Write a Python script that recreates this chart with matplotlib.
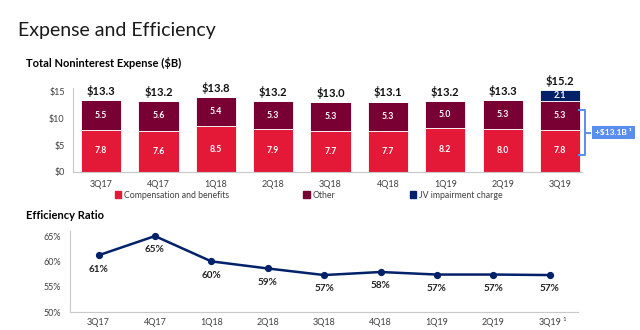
import matplotlib
import matplotlib.pyplot as plt
from matplotlib.patches import Patch

matplotlib.use("Agg")
plt.rcParams["font.family"] = ["Lato", "DejaVu Sans"]

quarters = ["3Q17", "4Q17", "1Q18", "2Q18", "3Q18", "4Q18", "1Q19", "2Q19", "3Q19"]
comp = [7.8, 7.6, 8.5, 7.9, 7.7, 7.7, 8.2, 8.0, 7.8]
other = [5.5, 5.6, 5.4, 5.3, 5.3, 5.3, 5.0, 5.3, 5.3]
jv = [0, 0, 0, 0, 0, 0, 0, 0, 2.1]
totals = [13.3, 13.2, 13.8, 13.2, 13.0, 13.1, 13.2, 13.3, 15.2]
eff = [61.2, 65.0, 60.0, 58.6, 57.3, 57.9, 57.4, 57.4, 57.3]
eff_labels = ["61%", "65%", "60%", "59%", "57%", "58%", "57%", "57%", "57%"]

RED = "#E31937"
MAROON = "#780032"
NAVY = "#012169"
BLUE = "#5B8DEF"
TICK = "#404040"
SPINE = "#C8C8C8"

fig = plt.figure(figsize=(6.4, 3.3), dpi=100)
fig.patch.set_facecolor("white")

fig.text(0.028, 0.89, "Expense and Efficiency", fontsize=14, color="#1a1a1a")
fig.text(0.04, 0.797, "Total Noninterest Expense ($B)", fontsize=8, fontweight="bold")
fig.text(0.04, 0.335, "Efficiency Ratio", fontsize=8, fontweight="bold")

# stacked expense bars
ax = fig.add_axes([0.114, 0.479, 0.795, 0.269])
x = list(range(len(quarters)))
base2 = [c + o for c, o in zip(comp, other)]
ax.bar(x, comp, width=0.7, color=RED, edgecolor="white", linewidth=0.6)
ax.bar(x, other, width=0.7, bottom=comp, color=MAROON, edgecolor="white", linewidth=0.6)
ax.bar(x, jv, width=0.7, bottom=base2, color=NAVY, edgecolor="white", linewidth=0.6)
for i in x:
    ax.text(i, comp[i] / 2, f"{comp[i]:.1f}", ha="center", va="center",
            color="white", fontsize=6.3, fontweight="bold")
    ax.text(i, comp[i] + other[i] / 2, f"{other[i]:.1f}", ha="center",
            va="center", color="white", fontsize=6.3, fontweight="bold")
    if jv[i]:
        ax.text(i, base2[i] + jv[i] / 2, f"{jv[i]:.1f}", ha="center",
                va="center", color="white", fontsize=6.3, fontweight="bold")
    ax.text(i, totals[i] + 0.6, f"${totals[i]:.1f}", ha="center", va="bottom",
            fontsize=8, fontweight="bold", color="#111111")
ax.set_xlim(-0.49, 8.38)
ax.set_ylim(0, 16.5)
ax.set_yticks([0, 5, 10, 15])
ax.set_yticklabels(["$0", "$5", "$10", "$15"])
ax.set_xticks(x)
ax.set_xticklabels(quarters)
ax.tick_params(length=0, labelsize=6.5, colors=TICK, pad=6)
for s in ("top", "right"):
    ax.spines[s].set_visible(False)
ax.spines["left"].set_color(SPINE)
ax.spines["bottom"].set_color(SPINE)
ax.spines["left"].set_bounds(0, 15.6)

handles = [Patch(color=RED), Patch(color=MAROON), Patch(color=NAVY)]
ax.legend(handles, ["Compensation and benefits", "Other", "JV impairment charge"],
          ncol=3, loc="upper left", bbox_to_anchor=(0.075, -0.17), frameon=False,
          fontsize=6.3, handlelength=0.75, handleheight=0.75, handletextpad=0.3,
          columnspacing=8.5, borderaxespad=0, labelcolor=TICK)

# bracket around the 3Q19 comp + other stack
bx0, bx1, bx2 = 8.33, 8.43, 8.52
ylo, yhi = 3.1, 11.5
ymid = (ylo + yhi) / 2
ax.plot([bx0, bx1, bx1, bx0], [yhi, yhi, ylo, ylo], color=BLUE, lw=1.4,
        clip_on=False, solid_joinstyle="round")
ax.plot([bx1, bx2], [ymid, ymid], color=BLUE, lw=1.4, clip_on=False)
ax.text(8.93, ymid, f"+${base2[-1]:.1f}B \u00b9", ha="center", va="center",
        color="white", fontsize=6, fontweight="bold", clip_on=False,
        bbox=dict(boxstyle="square,pad=0.4", fc=BLUE, ec="none"))

# efficiency ratio line
ax2 = fig.add_axes([0.109, 0.0545, 0.794, 0.2455])
ax2.plot(x, eff, color=NAVY, lw=1.8, marker="o", markersize=4.2)
for i in x:
    ax2.annotate(eff_labels[i], (i, eff[i]), xytext=(0, -10),
                 textcoords="offset points", ha="center", va="center",
                 fontsize=7.2, fontweight="bold", color="#222222")
ax2.set_xlim(-0.51, 8.5)
ax2.set_ylim(50, 66)
ax2.set_yticks([50, 55, 60, 65])
ax2.set_yticklabels(["50%", "55%", "60%", "65%"])
ax2.set_xticks(x)
ax2.set_xticklabels(quarters)
ax2.tick_params(axis="x", length=0, labelsize=6.5, colors=TICK, pad=4)
ax2.tick_params(axis="y", length=0, labelsize=6.5, colors=TICK, pad=6)
ax2.annotate("1", (8, 50), xytext=(9.5, -6.5), textcoords="offset points",
             fontsize=4.5, color=TICK, annotation_clip=False)
for s in ("top", "right"):
    ax2.spines[s].set_visible(False)
ax2.spines["left"].set_color(SPINE)
ax2.spines["bottom"].set_color(SPINE)

fig.savefig("out.png", dpi=100, facecolor="white")
